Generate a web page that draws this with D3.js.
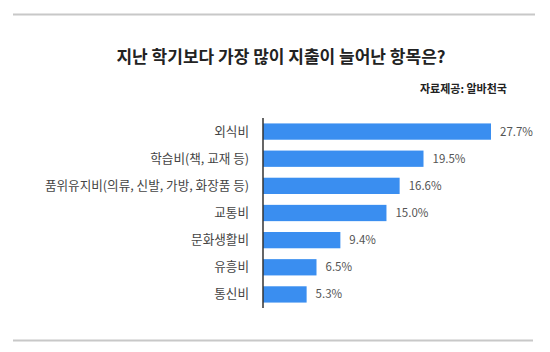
<!DOCTYPE html>
<html>
<head>
<meta charset="utf-8">
<script src="https://cdn.jsdelivr.net/npm/d3@7"></script>
<style>
  body { margin: 0; background: #fff; }
  text { font-family: "Noto Sans CJK KR", "Noto Sans", sans-serif; }
</style>
</head>
<body>
<div id="chart"></div>
<script>
// chart data
const categories = ["외식비", "학습비(책, 교재 등)", "품위유지비(의류, 신발, 가방, 화장품 등)", "교통비", "문화생활비", "유흥비", "통신비"];
const values = [27.7, 19.5, 16.6, 15.0, 9.4, 6.5, 5.3];
const valueLabels = ["27.7%", "19.5%", "16.6%", "15.0%", "9.4%", "6.5%", "5.3%"];

const width = 550, height = 352;
const svg = d3.select("#chart").append("svg")
  .attr("width", width)
  .attr("height", height);

// divider lines top and bottom
svg.append("line").attr("x1", 13).attr("x2", 535).attr("y1", 14.5).attr("y2", 14.5)
  .style("stroke", "#c8c8c8").style("stroke-width", 2);
svg.append("line").attr("x1", 13).attr("x2", 533).attr("y1", 340.5).attr("y2", 340.5)
  .style("stroke", "#c8c8c8").style("stroke-width", 2);

// title
svg.append("text")
  .attr("x", 281)
  .attr("y", 63)
  .attr("text-anchor", "middle")
  .style("font-size", "17px")
  .style("font-weight", "bold")
  .attr("fill", "#222")
  .text("지난 학기보다 가장 많이 지출이 늘어난 항목은?");

svg.append("text")
  .attr("x", 507)
  .attr("y", 93)
  .attr("text-anchor", "end")
  .style("font-size", "11px")
  .style("font-weight", "bold")
  .attr("fill", "#222")
  .text("자료제공: 알바천국");

const margin = { left: 263, top: 118 };
const x = d3.scaleLinear().domain([0, 27.7]).range([margin.left, 491]);
const y = d3.scaleBand().domain(categories).range([118, 308]).paddingInner(0.4).paddingOuter(0.2);

// bars
svg.selectAll(".bar")
  .data(values)
  .enter().append("rect")
  .attr("class", "bar")
  .attr("x", x(0))
  .attr("y", (d, i) => y(categories[i]))
  .attr("width", d => x(d) - x(0))
  .attr("height", y.bandwidth())
  .attr("fill", "#3a8ef0");

// value labels
svg.selectAll(".val")
  .data(values)
  .enter().append("text")
  .attr("class", "val")
  .attr("x", d => x(d) + 9)
  .attr("y", (d, i) => y(categories[i]) + y.bandwidth() / 2)
  .attr("dy", "0.35em")
  .style("font-size", "11.5px")
  .attr("fill", "#555")
  .text((d, i) => valueLabels[i]);

// y axis, labels only
const yAxis = d3.axisLeft(y).tickSize(0).tickPadding(14);
const ga = svg.append("g").attr("transform", "translate(" + margin.left + ",0)").call(yAxis);
ga.select(".domain").remove();
ga.selectAll("text")
  .style("font-size", "12.6px")
  .style("font-family", "\"Noto Sans CJK KR\", sans-serif")
  .attr("fill", "#444");

svg.append("line")
  .attr("x1", margin.left).attr("x2", margin.left)
  .attr("y1", 118).attr("y2", 308)
  .style("stroke", "#333").style("stroke-width", 1.5);
</script>
</body>
</html>
